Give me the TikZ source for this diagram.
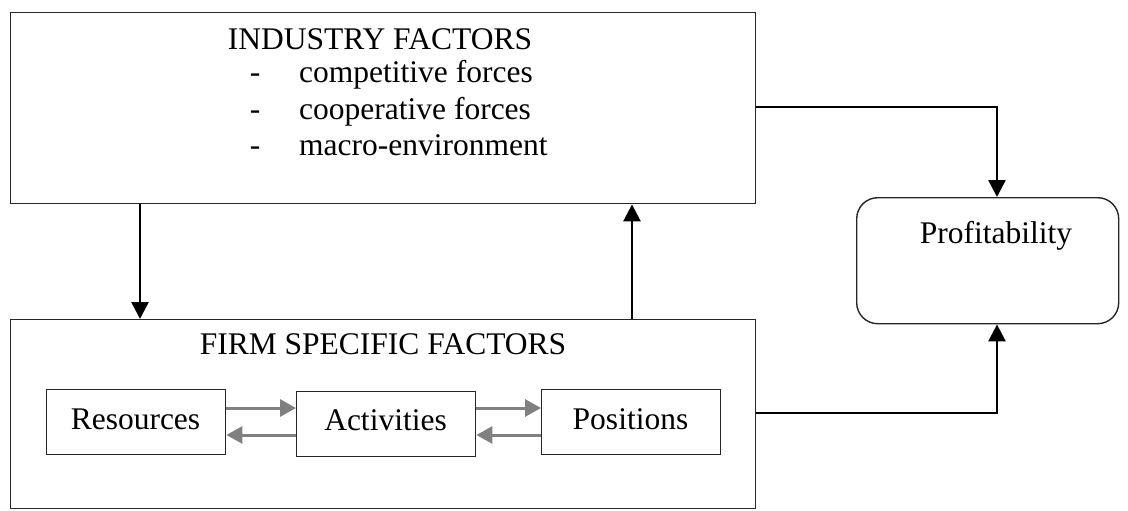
\documentclass[tikz,border=0pt]{standalone}
\usepackage{fontspec}
\setmainfont{Liberation Serif}
\usetikzlibrary{arrows.meta}
\begin{document}
\begin{tikzpicture}[x=1pt,y=-1pt,
  every node/.style={font=\fontsize{31.5}{37}\selectfont},
  bigbox/.style={draw=black!85,line width=1.4pt,rectangle,minimum width=745pt,inner sep=0pt,anchor=north west},
  smallbox/.style={draw=black!85,line width=1.4pt,rectangle,minimum width=179pt,minimum height=65pt,inner sep=0pt,anchor=north west},
  txt/.style={inner sep=0pt,anchor=base},
  flow/.style={line width=2.6pt,-{Triangle[length=17pt,width=17pt]}},
  loop/.style={line width=3pt,draw=black!50,-{Triangle[length=16pt,width=17pt,fill=black!50]}}]
\useasboundingbox (0,0) rectangle (1128,511);

% outer boxes
\node[bigbox,minimum height=191pt] (ind) at (10,12) {};
\node[bigbox,minimum height=189pt] (firm) at (10,319) {};
\node[draw=black!85,line width=1.4pt,rounded corners=21pt,minimum width=262pt,minimum height=126pt,inner sep=0pt,anchor=north west] (prof) at (856,197) {};

% industry text
\node[txt] (indt) at (380,50) {INDUSTRY FACTORS};
\node[txt] (d1) at (255,83) {-};
\node[txt] (d2) at (255,119) {-};
\node[txt] (d3) at (255,155) {-};
\node[txt,anchor=base west] (l1) at (299,83) {competitive forces};
\node[txt,anchor=base west] (l2) at (299,119) {cooperative forces};
\node[txt,anchor=base west] (l3) at (299,155) {macro-environment};

% firm text
\node[txt] (firmt) at (383,354) {FIRM SPECIFIC FACTORS};
\node[txt] (proft) at (996,243) {Profitability};

% inner boxes
\node[smallbox] (res) at (46,389) {};
\node[smallbox] (act) at (296,391) {};
\node[smallbox] (pos) at (541,389) {};
\node[txt] at (135.5,429) {Resources};
\node[txt] at (385.5,430) {Activities};
\node[txt] at (630.5,429) {Positions};

% feedback loops between the stages
\draw[loop] (res.east|-0,408) -- (act.west|-0,408);
\draw[loop] (act.west|-0,435) -- (res.east|-0,435);
\draw[loop] (act.east|-0,408) -- (pos.west|-0,408);
\draw[loop] (pos.west|-0,435) -- (act.east|-0,435);

% links between the levels
\draw[flow] (ind.south-|140,0) -- (firm.north-|140,0);
\draw[flow] (firm.north-|632,0) -- (ind.south-|632,0);
\draw[flow] (ind.east|-0,107) -| (prof.north-|997,0);
\draw[flow] (firm.east|-0,413) -| (prof.south-|997,0);
\end{tikzpicture}
\end{document}
